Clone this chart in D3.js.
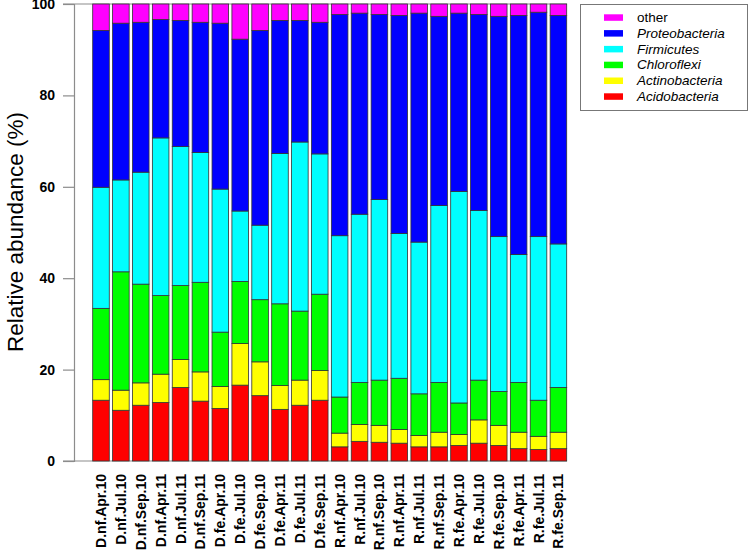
<!DOCTYPE html>
<html><head><meta charset="utf-8">
<script src="https://cdn.jsdelivr.net/npm/d3@7/dist/d3.min.js"></script>
<style>body{margin:0;background:#fff}svg{display:block}</style>
</head><body>
<svg id="chart" width="751" height="556"></svg>
<script>
const categories = ["D.nf.Apr.10","D.nf.Jul.10","D.nf.Sep.10","D.nf.Apr.11","D.nf.Jul.11","D.nf.Sep.11",
  "D.fe.Apr.10","D.fe.Jul.10","D.fe.Sep.10","D.fe.Apr.11","D.fe.Jul.11","D.fe.Sep.11",
  "R.nf.Apr.10","R.nf.Jul.10","R.nf.Sep.10","R.nf.Apr.11","R.nf.Jul.11","R.nf.Sep.11",
  "R.fe.Apr.10","R.fe.Jul.10","R.fe.Sep.10","R.fe.Apr.11","R.fe.Jul.11","R.fe.Sep.11"];
const acidobacteria  = [13.3,11.1,12.2,12.8,16.1,13.1,11.5,16.6,14.3,11.3,12.2,13.3, 3.1,4.3,4.1,3.9,3.1,3.1, 3.4,3.9,3.4,2.7,2.5,2.7];
const actinobacteria = [4.5,4.4,4.9,6.2,6.1,6.4,4.8,9.1,7.4,5.2,5.5,6.5, 3.0,3.7,3.7,3.0,2.5,3.2, 2.4,5.1,4.4,3.6,2.9,3.6];
const chloroflexi    = [15.6,25.9,21.6,17.2,16.2,19.6,11.9,13.6,13.6,17.9,15.1,16.7, 7.9,9.2,9.9,11.2,9.1,10.9, 6.9,8.7,7.4,10.9,7.9,9.8];
const firmicutes     = [26.5,20.1,24.5,34.5,30.4,28.4,31.3,15.4,16.3,32.9,37.0,30.7, 35.3,36.8,39.5,31.7,33.2,38.7, 46.3,37.1,33.9,28.0,35.8,31.4];
const proteobacteria = [34.3,34.3,32.8,25.9,27.6,28.5,36.3,37.6,42.6,29.1,26.6,28.8, 48.4,44.0,40.5,47.7,50.1,41.4, 39.0,42.9,48.2,52.3,49.1,50.0];
const other          = [5.8,4.2,4.0,3.4,3.6,4.0,4.2,7.7,5.8,3.6,3.6,4.0, 2.3,2.0,2.3,2.5,2.0,2.7, 2.0,2.3,2.7,2.5,1.8,2.5];
const seriesNames  = ["Acidobacteria","Actinobacteria","Chloroflexi","Firmicutes","Proteobacteria","other"];
const seriesColors = ["#FF0000","#FFFF00","#00FF00","#00FFFF","#0000FF","#FF00FF"];
const yTicks = [0,20,40,60,80,100];

const seriesValues = [acidobacteria, actinobacteria, chloroflexi, firmicutes, proteobacteria, other];
const rows = categories.map((c,i)=>{const r={cat:c}; seriesNames.forEach((s,k)=>r[s]=seriesValues[k][i]); return r;});
const stacked = d3.stack().keys(seriesNames)(rows);

const svg = d3.select("#chart");
const x = d3.scaleBand().domain(categories).range([92.7,566.7]).paddingInner(1/6).paddingOuter(0);
const y = d3.scaleLinear().domain([0,100]).range([461,4]);
const color = d3.scaleOrdinal().domain(seriesNames).range(seriesColors);
const axisCol = "#8c8c8c";

// horizontal lines at 0 and 100
svg.selectAll("line.h").data([0,100]).join("line")
  .attr("x1",63).attr("x2",567).attr("y1",d=>y(d)).attr("y2",d=>y(d))
  .attr("stroke",axisCol).attr("stroke-width",1.2);

// bars
svg.append("g").selectAll("g").data(stacked).join("g")
  .attr("fill",d=>color(d.key))
  .selectAll("rect").data(d=>d).join("rect")
  .attr("x",d=>x(d.data.cat)).attr("width",x.bandwidth())
  .attr("y",d=>y(d[1])).attr("height",d=>y(d[0])-y(d[1]))
  .attr("stroke","#333").attr("stroke-width",0.8);

// y axis
const yAxis = svg.append("g").attr("transform","translate(74,0)")
  .call(d3.axisLeft(y).tickValues(yTicks).tickSize(11).tickPadding(8).tickFormat(d3.format("d")));
yAxis.select(".domain").attr("stroke",axisCol).attr("stroke-width",1.2);
yAxis.selectAll(".tick line").attr("stroke",axisCol).attr("stroke-width",1.2);
yAxis.selectAll(".tick text").attr("font-family","Liberation Sans, Arial, sans-serif")
  .attr("font-size",14).attr("font-weight","bold").attr("fill","#000");

// y title
svg.append("text").attr("transform","translate(15,232) rotate(-90)")
  .attr("text-anchor","middle").attr("dy","0.35em")
  .attr("font-family","Liberation Sans, Arial, sans-serif").attr("font-size",22.5)
  .text("Relative abundance (%)");

// x labels
svg.append("g").selectAll("text").data(categories).join("text")
  .attr("transform",d=>`translate(${x(d)+x.bandwidth()/2},474) rotate(-90)`)
  .attr("text-anchor","end").attr("dy","0.36em")
  .attr("font-family","Liberation Sans, Arial, sans-serif").attr("font-size",14).attr("font-weight","bold")
  .text(d=>d);

// legend
const lg = svg.append("g");
lg.append("rect").attr("x",580.5).attr("y",4.5).attr("width",167).attr("height",106)
  .attr("fill","#fff").attr("stroke","#777").attr("stroke-width",1);
const legendOrder = seriesNames.slice().reverse();
const li = lg.selectAll("g").data(legendOrder).join("g")
  .attr("transform",(d,i)=>`translate(0,${17.3+i*15.8})`);
li.append("rect").attr("x",604).attr("y",-3).attr("width",19).attr("height",6.5)
  .attr("fill",d=>color(d));
li.append("text").attr("x",637).attr("dy","0.35em")
  .attr("font-family","Liberation Sans, Arial, sans-serif").attr("font-size",13.5)
  .attr("font-style",d=>d==="other"?"normal":"italic")
  .text(d=>d);
</script>
</body></html>
